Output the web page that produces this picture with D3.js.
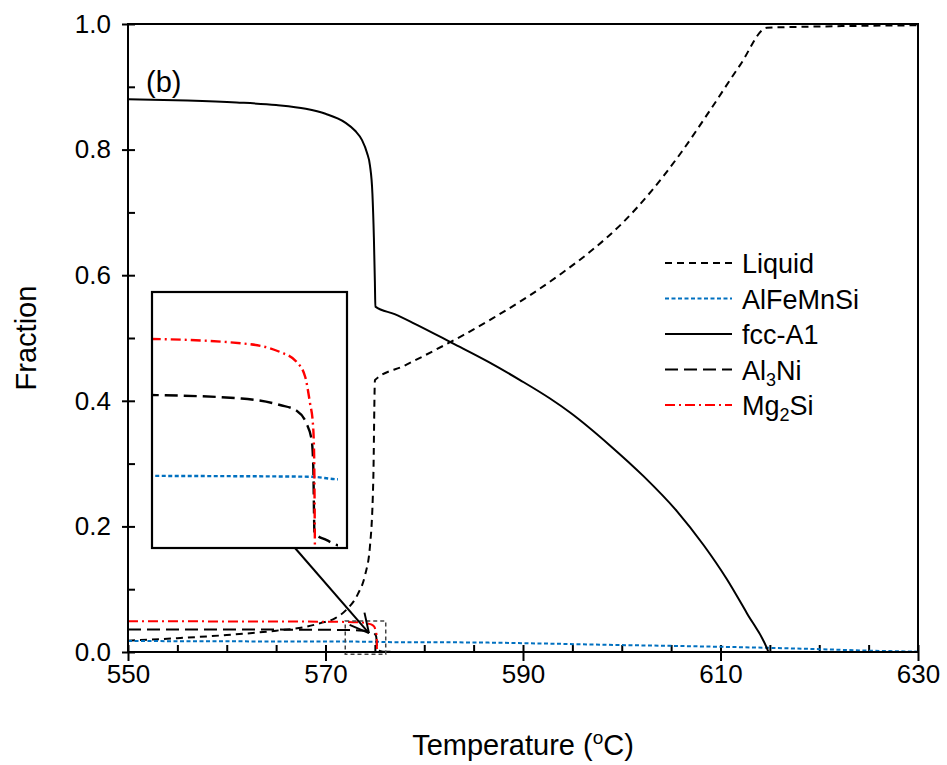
<!DOCTYPE html>
<html>
<head>
<meta charset="utf-8">
<script src="https://cdn.jsdelivr.net/npm/d3@7"></script>
<style>
  body { margin: 0; background: #fff; }
  text { font-family: Arial, "Liberation Sans", sans-serif; fill: #000; }
</style>
</head>
<body>
<div class="graphic"></div>
<script>
// values: [temperature (°C), fraction]
const liquid = [
  [550, 0.018], [555, 0.022], [560, 0.027], [565, 0.034], [568, 0.040],
  [569.5, 0.046], [571, 0.054], [572.1, 0.067], [573.3, 0.093], [574, 0.122],
  [574.5, 0.168], [574.84, 0.274], [575.01, 0.433], [578, 0.456], [581, 0.480],
  [584, 0.505], [587, 0.532], [590.7, 0.568], [594, 0.604], [597, 0.640],
  [600, 0.682], [603, 0.734], [606, 0.795], [609, 0.864], [612, 0.935],
  [614.7, 0.994], [620, 0.996], [630, 0.998]
];
const alfemnsi = [
  [550, 0.0175], [560, 0.0170], [571.2, 0.0166], [575.1, 0.0164], [575.8, 0.0158],
  [585, 0.0152], [592, 0.0135], [600, 0.0110], [606, 0.0095], [610, 0.0083],
  [615, 0.0066], [620, 0.0045], [625, 0.0022], [630, 0.0005]
];
const fcc = [
  [550, 0.880], [556, 0.878], [561, 0.875], [565, 0.871], [568, 0.865],
  [570, 0.857], [572, 0.843], [573, 0.830], [573.7, 0.815], [574.2, 0.795],
  [574.5, 0.775], [574.75, 0.730], [574.9, 0.660], [575.0, 0.590], [575.05, 0.550],
  [577, 0.538], [579, 0.523], [582.9, 0.4915], [586.5, 0.462], [589.7, 0.433],
  [592.7, 0.404], [594.8, 0.381], [598.8, 0.329], [602.2, 0.280], [605.6, 0.224],
  [608.3, 0.170], [610.6, 0.117], [612.7, 0.061], [614.7, 0.006], [614.85, 0]
];
const al3ni = [
  [550, 0.0360], [560, 0.0358], [568, 0.0355], [571.2, 0.0352], [573.4, 0.0344],
  [574.35, 0.0329], [574.76, 0.0316], [575.0, 0.0287], [575.13, 0.0248],
  [575.17, 0.0187], [575.2, 0.0034], [575.5, 0.0018], [575.8, 0.0006],
  [576.5, 0.0002], [578.5, 0]
];
const mg2si = [
  [550, 0.0490], [560, 0.0487], [568, 0.0484], [571.2, 0.0481], [573.4, 0.0471],
  [574.35, 0.0451], [574.76, 0.0428], [574.97, 0.0394], [575.09, 0.0333],
  [575.16, 0.0287], [575.19, 0.0218], [575.21, 0]
];

const xTicks = [550, 570, 590, 610, 630];
const yTicks = [0, 0.2, 0.4, 0.6, 0.8, 1.0];
const xMinor = d3.range(550, 631, 5);
const yMinor = d3.range(0, 1.01, 0.1);

// region magnified in the inset: [tMin, tMax], [fMin, fMax]
const zoomT = [572, 576.1];
const zoomF = [-0.0035, 0.0495];
const insetT = [571.2, 576.0];
const insetF = [0, 0.0589];

const series = [
  { key: 'liquid', label: ['Liquid'], data: liquid, color: '#000', dash: '7,5', width: 2 },
  { key: 'alfemnsi', label: ['AlFeMnSi'], data: alfemnsi, color: '#0070C0', dash: '4,2.5', width: 2 },
  { key: 'fcc', label: ['fcc-A1'], data: fcc, color: '#000', dash: null, width: 2 },
  { key: 'al3ni', label: ['Al', '3', 'Ni'], data: al3ni, color: '#000', dash: '13,6', width: 2 },
  { key: 'mg2si', label: ['Mg', '2', 'Si'], data: mg2si, color: '#FF0000', dash: '10,4,2,4', width: 2 }
];

const width = 947, height = 765;
const margin = { left: 128, right: 29, top: 24, bottom: 113 };

const svg = d3.select('.graphic')
  .append('svg')
  .attr('width', width)
  .attr('height', height);

const x = d3.scaleLinear().domain([550, 630]).range([margin.left, width - margin.right]);
const y = d3.scaleLinear().domain([0, 1]).range([height - margin.bottom, margin.top]);

const line = (xs, ys) => d3.line()
  .x(d => xs(d[0]))
  .y(d => ys(d[1]))
  .curve(d3.curveMonotoneX);

// minor ticks (inside)
svg.append('g')
  .attr('transform', `translate(0,${y(0)})`)
  .call(d3.axisBottom(x).tickValues(xMinor).tickSize(-7).tickFormat(''))
  .call(g => g.select('.domain').remove());
svg.append('g')
  .attr('transform', `translate(${x(550)},0)`)
  .call(d3.axisLeft(y).tickValues(yMinor).tickSize(-7).tickFormat(''))
  .call(g => g.select('.domain').remove());

// major ticks with labels (outside)
svg.append('g')
  .attr('class', 'x-axis')
  .attr('transform', `translate(0,${y(0)})`)
  .call(d3.axisBottom(x).tickValues(xTicks).tickSize(9).tickPadding(4).tickFormat(d3.format('d')))
  .call(g => g.select('.domain').remove());
svg.append('g')
  .attr('class', 'y-axis')
  .attr('transform', `translate(${x(550)},0)`)
  .call(d3.axisLeft(y).tickValues(yTicks).tickSize(6).tickPadding(11).tickFormat(d3.format('.1f')))
  .call(g => g.select('.domain').remove());

svg.selectAll('.tick line').attr('stroke', '#000').attr('stroke-width', 2);
svg.selectAll('.tick text').style('font-size', '26px').attr('fill', '#000');

// curves
svg.append('g')
  .selectAll('path')
  .data(series)
  .enter()
  .append('path')
  .attr('d', d => line(x, y)(d.data))
  .attr('fill', 'none')
  .attr('stroke', d => d.color)
  .attr('stroke-width', d => d.width)
  .attr('stroke-dasharray', d => d.dash);

// frame
svg.append('rect')
  .attr('x', x(550))
  .attr('y', y(1))
  .attr('width', x(630) - x(550))
  .attr('height', y(0) - y(1))
  .attr('fill', 'none')
  .attr('stroke', '#000')
  .attr('stroke-width', 2);

// dashed zoom box
svg.append('rect')
  .attr('x', x(zoomT[0]))
  .attr('y', y(zoomF[1]))
  .attr('width', x(zoomT[1]) - x(zoomT[0]))
  .attr('height', y(zoomF[0]) - y(zoomF[1]))
  .attr('fill', 'none')
  .attr('stroke', '#444')
  .attr('stroke-width', 1.5)
  .attr('stroke-dasharray', '4,3');

// inset
const inset = { x: 152, y: 292, w: 195, h: 256 };
const xi = d3.scaleLinear().domain(insetT).range([inset.x, inset.x + inset.w]);
const yi = d3.scaleLinear().domain(insetF).range([inset.y + inset.h, inset.y]);

svg.append('clipPath')
  .attr('id', 'inset-clip')
  .append('rect')
  .attr('x', inset.x)
  .attr('y', inset.y)
  .attr('width', inset.w - 9)
  .attr('height', inset.h);

svg.append('rect')
  .attr('x', inset.x)
  .attr('y', inset.y)
  .attr('width', inset.w)
  .attr('height', inset.h)
  .attr('fill', '#fff');

svg.append('g')
  .attr('clip-path', 'url(#inset-clip)')
  .selectAll('path')
  .data(series.filter(d => ['alfemnsi', 'al3ni', 'mg2si'].includes(d.key)))
  .enter()
  .append('path')
  .attr('d', d => line(xi, yi)(d.data))
  .attr('fill', 'none')
  .attr('stroke', d => d.color)
  .attr('stroke-width', 2.4)
  .attr('stroke-dasharray', d => d.dash);

svg.append('rect')
  .attr('x', inset.x)
  .attr('y', inset.y)
  .attr('width', inset.w)
  .attr('height', inset.h)
  .attr('fill', 'none')
  .attr('stroke', '#000')
  .attr('stroke-width', 2.2);

// arrow from inset to the zoom box
const tail = [295, inset.y + inset.h];
const tip = [x(574.4), y(0.030)];
const ang = Math.atan2(tail[1] - tip[1], tail[0] - tip[0]);
svg.append('line')
  .attr('x1', tail[0]).attr('y1', tail[1])
  .attr('x2', tip[0]).attr('y2', tip[1])
  .attr('stroke', '#000').attr('stroke-width', 2);
[-0.45, 0.5].forEach(a => {
  svg.append('line')
    .attr('x1', tip[0]).attr('y1', tip[1])
    .attr('x2', tip[0] + 21 * Math.cos(ang + a))
    .attr('y2', tip[1] + 21 * Math.sin(ang + a))
    .attr('stroke', '#000').attr('stroke-width', 2);
});

// legend
const legend = svg.append('g').attr('transform', 'translate(665,263)');
const rows = legend.selectAll('g')
  .data(series)
  .enter()
  .append('g')
  .attr('transform', (d, i) => `translate(0,${i * 35.5})`);
rows.append('line')
  .attr('x1', 0).attr('x2', 67)
  .attr('stroke', d => d.color)
  .attr('stroke-width', d => d.width)
  .attr('stroke-dasharray', d => d.dash);
rows.append('text')
  .attr('x', 77)
  .attr('y', 10)
  .style('font-size', '27px')
  .each(function (d) {
    const t = d3.select(this);
    t.append('tspan').text(d.label[0]);
    if (d.label.length > 1) {
      t.append('tspan').attr('dy', 6).style('font-size', '18px').text(d.label[1]);
      t.append('tspan').attr('dy', -6).text(d.label[2]);
    }
  });

// titles
svg.append('text')
  .attr('x', 146)
  .attr('y', 92)
  .style('font-size', '29px')
  .text('(b)');

const xt = svg.append('text')
  .attr('x', (x(550) + x(630)) / 2)
  .attr('y', 755)
  .attr('text-anchor', 'middle')
  .style('font-size', '29px');
xt.append('tspan').text('Temperature (');
xt.append('tspan').attr('dy', -11).style('font-size', '19px').text('o');
xt.append('tspan').attr('dy', 11).text('C)');

svg.append('text')
  .attr('transform', `translate(36,${(y(0) + y(1)) / 2}) rotate(-90)`)
  .attr('text-anchor', 'middle')
  .style('font-size', '29px')
  .text('Fraction');
</script>
</body>
</html>
